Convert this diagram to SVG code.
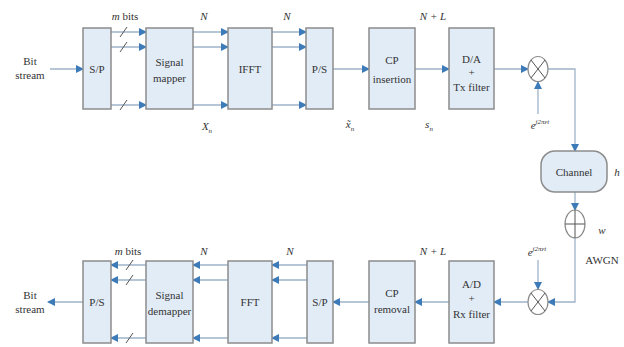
<svg xmlns="http://www.w3.org/2000/svg" width="624" height="347" viewBox="0 0 624 347">
<defs>
<style>
.box{fill:#e1ecf7;stroke:#8c8c8c;stroke-width:1.5}
.ln{fill:none;stroke:#9fb3c8;stroke-width:1.3}
.sl{fill:none;stroke:#555;stroke-width:1}
.t{font-family:"Liberation Serif","Times New Roman",serif;font-size:11px;fill:#333;text-anchor:middle}
.i{font-style:italic}
.op{fill:#fff;stroke:#8c8c8c;stroke-width:1.2}
</style>
<marker id="ah" markerWidth="8" markerHeight="8" refX="7" refY="4" orient="auto" markerUnits="userSpaceOnUse">
<path d="M0,0 L8,4 L0,8 Z" fill="#3d7ab8"/>
</marker>
</defs>
<rect width="624" height="347" fill="#fff"/>

<g id="connectors">
<!-- top row -->
<line class="ln" x1="50" y1="69" x2="83" y2="69" marker-end="url(#ah)"/>
<line class="ln" x1="111" y1="32" x2="146" y2="32" marker-end="url(#ah)"/>
<line class="ln" x1="111" y1="47" x2="146" y2="47" marker-end="url(#ah)"/>
<line class="ln" x1="111" y1="105" x2="146" y2="105" marker-end="url(#ah)"/>
<line class="ln" x1="193" y1="32" x2="228" y2="32" marker-end="url(#ah)"/>
<line class="ln" x1="193" y1="47" x2="228" y2="47" marker-end="url(#ah)"/>
<line class="ln" x1="193" y1="105" x2="228" y2="105" marker-end="url(#ah)"/>
<line class="ln" x1="272" y1="32" x2="306" y2="32" marker-end="url(#ah)"/>
<line class="ln" x1="272" y1="47" x2="306" y2="47" marker-end="url(#ah)"/>
<line class="ln" x1="272" y1="105" x2="306" y2="105" marker-end="url(#ah)"/>
<line class="ln" x1="333" y1="69" x2="369" y2="69" marker-end="url(#ah)"/>
<line class="ln" x1="415" y1="69" x2="449" y2="69" marker-end="url(#ah)"/>
<line class="ln" x1="494" y1="69" x2="528" y2="69" marker-end="url(#ah)"/>
<line class="ln" x1="538" y1="114" x2="538" y2="82" marker-end="url(#ah)"/>
<polyline class="ln" points="548,69 575,69 575,151" marker-end="url(#ah)"/>
<line class="ln" x1="575" y1="192" x2="575" y2="210" marker-end="url(#ah)"/>
<polyline class="ln" points="575,238 575,302 548,302" marker-end="url(#ah)"/>
<line class="ln" x1="538" y1="260" x2="538" y2="289" marker-end="url(#ah)"/>
<!-- bottom row -->
<line class="ln" x1="528" y1="302" x2="494" y2="302" marker-end="url(#ah)"/>
<line class="ln" x1="449" y1="302" x2="415" y2="302" marker-end="url(#ah)"/>
<line class="ln" x1="369" y1="302" x2="333" y2="302" marker-end="url(#ah)"/>
<line class="ln" x1="307" y1="265" x2="272" y2="265" marker-end="url(#ah)"/>
<line class="ln" x1="307" y1="280" x2="272" y2="280" marker-end="url(#ah)"/>
<line class="ln" x1="307" y1="338" x2="272" y2="338" marker-end="url(#ah)"/>
<line class="ln" x1="228" y1="265" x2="193" y2="265" marker-end="url(#ah)"/>
<line class="ln" x1="228" y1="280" x2="193" y2="280" marker-end="url(#ah)"/>
<line class="ln" x1="228" y1="338" x2="193" y2="338" marker-end="url(#ah)"/>
<line class="ln" x1="146" y1="265" x2="111" y2="265" marker-end="url(#ah)"/>
<line class="ln" x1="146" y1="280" x2="111" y2="280" marker-end="url(#ah)"/>
<line class="ln" x1="146" y1="338" x2="111" y2="338" marker-end="url(#ah)"/>
<line class="ln" x1="83" y1="302" x2="48" y2="302" marker-end="url(#ah)"/>
<!-- slash marks -->
<path class="sl" d="M120,37 L127,27 M120,52 L127,42 M120,110 L127,100 M126,270 L133,260 M126,285 L133,275 M126,343 L133,333"/>
</g>

<g id="bitstream-in"><text class="t" x="30" y="65">Bit</text><text class="t" x="30" y="79">stream</text></g>
<g id="sp-tx"><rect class="box" x="83" y="28" width="28" height="81"/><text class="t" x="97" y="73">S/P</text></g>
<g id="mapper"><rect class="box" x="146" y="28" width="47" height="81"/><text class="t" x="169.5" y="66">Signal</text><text class="t" x="169.5" y="82">mapper</text></g>
<g id="ifft"><rect class="box" x="228" y="28" width="44" height="81"/><text class="t" x="250" y="73">IFFT</text></g>
<g id="ps-tx"><rect class="box" x="306" y="28" width="27" height="81"/><text class="t" x="319.5" y="73">P/S</text></g>
<g id="cp-ins"><rect class="box" x="369" y="28" width="46" height="81"/><text class="t" x="392" y="64">CP</text><text class="t" x="392" y="83">insertion</text></g>
<g id="da"><rect class="box" x="449" y="28" width="45" height="81"/><text class="t" x="471.5" y="63">D/A</text><text class="t" x="471.5" y="76">+</text><text class="t" x="471.5" y="91">Tx filter</text></g>
<g id="mult-tx"><ellipse class="op" cx="538" cy="69" rx="10" ry="12.5"/><path class="sl" d="M531,60 L545,78 M545,60 L531,78" stroke="#8c8c8c"/></g>
<g id="channel"><rect class="box" x="541" y="151" width="66" height="41" rx="14"/><text class="t" x="574" y="176">Channel</text></g>
<g id="adder"><ellipse class="op" cx="575" cy="224" rx="10" ry="14"/><path class="sl" d="M565,224 L585,224 M575,210 L575,238" stroke="#8c8c8c"/></g>
<g id="mult-rx"><ellipse class="op" cx="538" cy="302" rx="10" ry="12.5"/><path class="sl" d="M531,293 L545,311 M545,293 L531,311" stroke="#8c8c8c"/></g>
<g id="ad"><rect class="box" x="449" y="261" width="45" height="82"/><text class="t" x="471.5" y="288">A/D</text><text class="t" x="471.5" y="302">+</text><text class="t" x="471.5" y="318">Rx filter</text></g>
<g id="cp-rem"><rect class="box" x="369" y="261" width="46" height="82"/><text class="t" x="392" y="297">CP</text><text class="t" x="392" y="313">removal</text></g>
<g id="sp-rx"><rect class="box" x="307" y="261" width="26" height="82"/><text class="t" x="320" y="306">S/P</text></g>
<g id="fft"><rect class="box" x="228" y="261" width="44" height="82"/><text class="t" x="250" y="306">FFT</text></g>
<g id="demapper"><rect class="box" x="146" y="261" width="47" height="82"/><text class="t" x="169.5" y="299">Signal</text><text class="t" x="169.5" y="315">demapper</text></g>
<g id="ps-rx"><rect class="box" x="83" y="261" width="28" height="82"/><text class="t" x="97" y="306">P/S</text></g>
<g id="bitstream-out"><text class="t" x="30" y="299">Bit</text><text class="t" x="30" y="313">stream</text></g>

<g id="labels">
<text class="t" x="125" y="20"><tspan class="i">m</tspan> bits</text>
<text class="t i" x="204" y="20">N</text>
<text class="t i" x="287" y="20">N</text>
<text class="t i" x="433" y="20">N + L</text>
<text class="t i" x="207" y="130">X<tspan font-size="7" dy="3">n</tspan></text>
<text class="t i" x="350" y="128">x̃<tspan font-size="7" dy="3">n</tspan></text>
<text class="t i" x="429" y="128">s<tspan font-size="7" dy="3">n</tspan></text>
<text class="t i" x="540" y="129">e<tspan font-size="7" dy="-5">j2πεt</tspan></text>
<text class="t i" x="617" y="176">h</text>
<text class="t i" x="602" y="234">w</text>
<text class="t" x="602" y="264">AWGN</text>
<text class="t i" x="537" y="256">e<tspan font-size="7" dy="-5">j2πεt</tspan></text>
<text class="t" x="128" y="255"><tspan class="i">m</tspan> bits</text>
<text class="t i" x="204" y="255">N</text>
<text class="t i" x="290" y="255">N</text>
<text class="t i" x="433" y="255">N + L</text>
</g>
</svg>
